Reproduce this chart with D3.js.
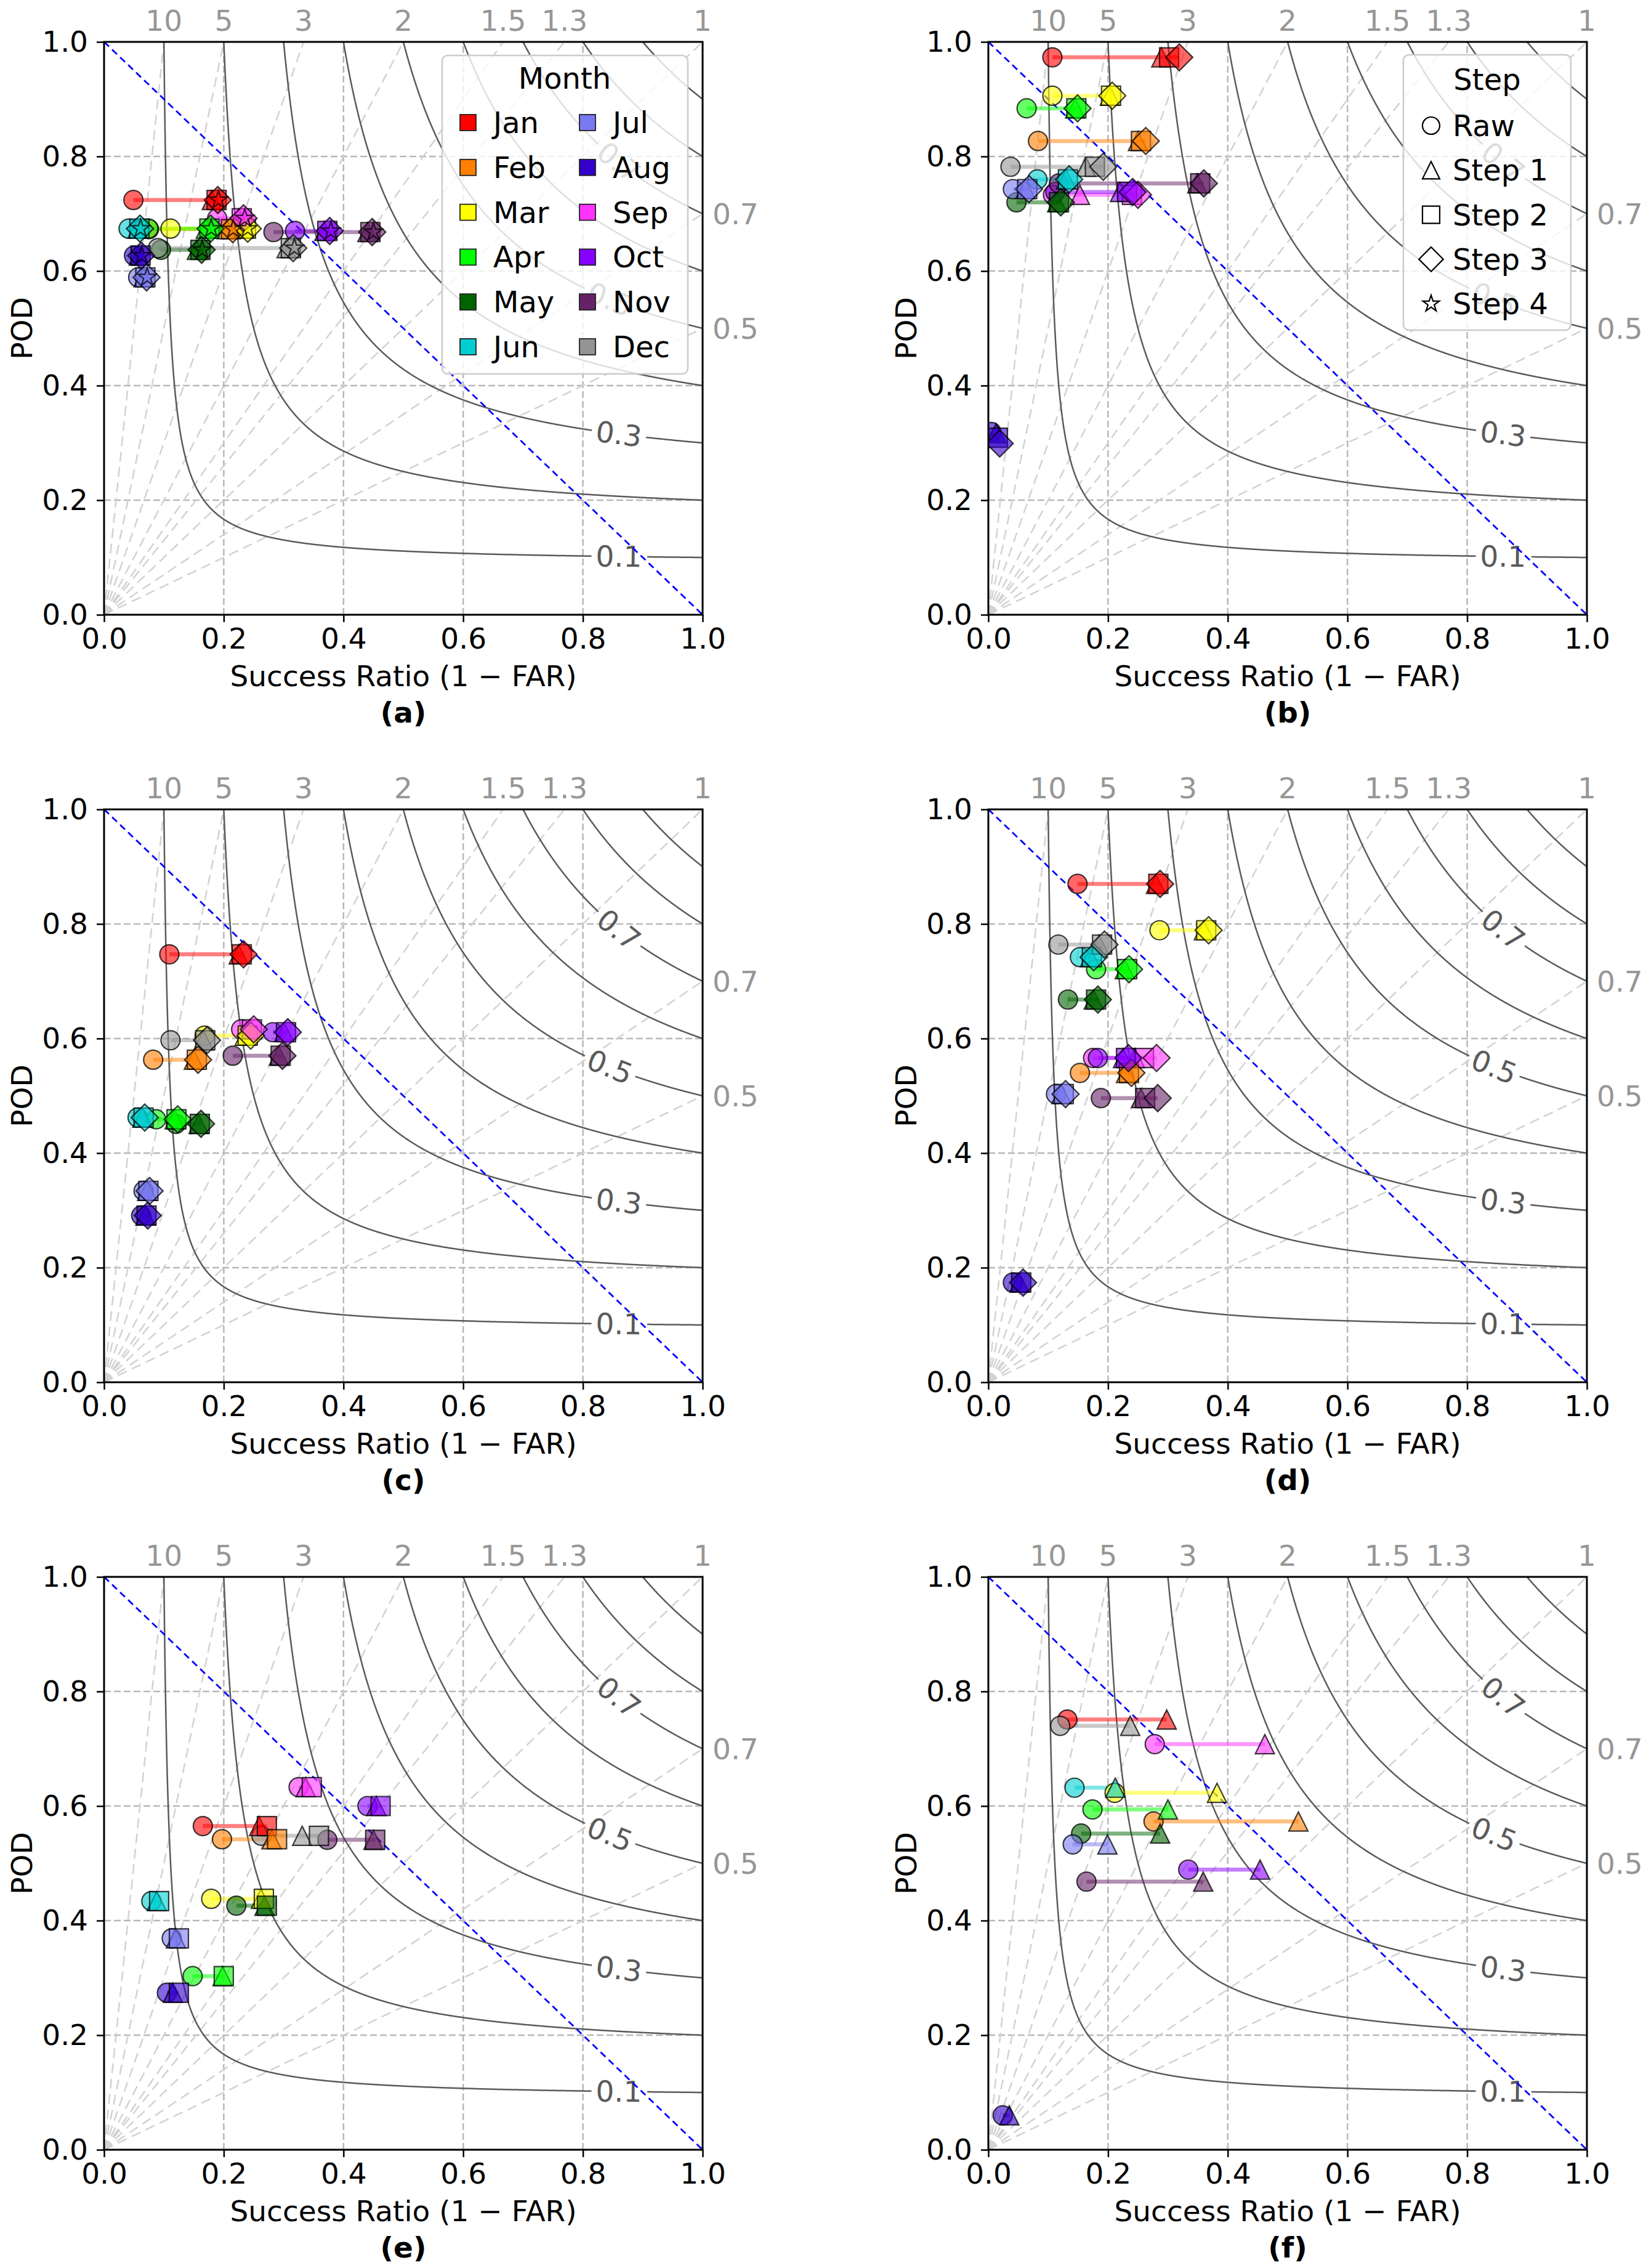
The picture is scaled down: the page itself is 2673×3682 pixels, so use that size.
<!DOCTYPE html>
<html><head><meta charset="utf-8">
<script src="https://cdn.jsdelivr.net/npm/d3@7"></script>
<style>body{margin:0;background:#fff} svg{display:block} text{font-family:"DejaVu Sans",sans-serif}</style>
</head><body><svg id="chart"></svg>
<script>
// ---------------- data ----------------
const months = ["Jan","Feb","Mar","Apr","May","Jun","Jul","Aug","Sep","Oct","Nov","Dec"];
const monthColors = ["#ff0000","#ff7f00","#ffff00","#00ff00","#006400","#00ced1","#7878f0","#3300cc","#ff33ff","#8800ff","#662266","#949494"];
const stepNames = ["Raw","Step 1","Step 2","Step 3","Step 4"];
const panelLabels = ["(a)","(b)","(c)","(d)","(e)","(f)"];
const axisTicks = [0,0.2,0.4,0.6,0.8,1.0];
const biasLevels = [10,5,3,2,1.5,1.3,1,0.7,0.5];
const biasLabels = ["10","5","3","2","1.5","1.3","1","0.7","0.5"];
const csiLevels = [0.1,0.2,0.3,0.4,0.5,0.6,0.7,0.8,0.9];
const csiLabelLevels = [0.1,0.3,0.5,0.7];
const csiLabelSR = [0.86,0.86,0.845,0.86];

// panel (a): Raw, Step1..Step4
const stepsA = [0,1,2,3,4];
const podA = [0.724,0.673,0.674,0.674,0.637,0.674,0.589,0.627,0.692,0.670,0.668,0.640];
const srA = [
 [0.049,0.180,0.188,0.190,0.191],[0.075,0.205,0.212,0.215,0.216],[0.111,0.232,0.237,0.240,0.240],
 [0.074,0.170,0.176,0.178,0.179],[0.095,0.155,0.161,0.163,0.164],[0.041,0.056,0.059,0.060,0.061],
 [0.057,0.066,0.069,0.071,0.072],[0.050,0.058,0.061,0.062,0.063],[0.189,0.225,0.230,0.233,0.235],
 [0.319,0.368,0.373,0.377,0.379],[0.283,0.440,0.445,0.448,0.450],[0.090,0.305,0.312,0.316,0.318]];
// panel (b): Raw, Step1..Step3
const stepsB = [0,1,2,3];
const podB = [0.973,0.827,0.906,0.884,0.720,0.760,0.743,[0.319,0.317,0.309,0.299],0.733,0.738,0.753,0.782];
const srB = [
 [0.107,0.289,0.302,0.319],[0.083,0.250,0.255,0.263],[0.107,0.203,0.205,0.207],
 [0.064,0.145,0.147,0.149],[0.047,0.115,0.118,0.121],[0.082,0.130,0.133,0.135],
 [0.041,0.062,0.065,0.068],[0.005,0.013,0.016,0.019],[0.108,0.153,0.240,0.250],
 [0.112,0.220,0.232,0.241],[0.118,0.349,0.354,0.360],[0.037,0.163,0.178,0.192]];
// panel (c)
const stepsC = [0,1,2,3];
const podC = [0.747,0.563,0.605,0.459,0.451,0.462,0.334,0.291,0.616,0.611,0.570,0.597];
const srC = [
 [0.109,0.225,0.230,0.233],[0.082,0.150,0.155,0.157],[0.168,0.235,0.240,0.245],
 [0.087,0.118,0.121,0.123],[0.120,0.158,0.160,0.162],[0.056,0.064,0.066,0.068],
 [0.066,0.072,0.074,0.076],[0.062,0.069,0.071,0.073],[0.229,0.244,0.247,0.250],
 [0.282,0.301,0.304,0.307],[0.215,0.292,0.295,0.298],[0.111,0.166,0.169,0.172]];
// panel (d)
const stepsD = [0,1,2,3];
const podD = [0.870,0.540,0.789,0.721,0.668,0.742,0.503,0.174,0.566,0.566,0.496,0.764];
const srD = [
 [0.149,0.280,0.284,0.287],[0.153,0.230,0.235,0.239],[0.286,0.360,0.364,0.368],
 [0.180,0.228,0.232,0.235],[0.133,0.176,0.180,0.183],[0.153,0.170,0.173,0.176],
 [0.113,0.122,0.126,0.129],[0.041,0.052,0.055,0.058],[0.175,0.245,0.260,0.281],
 [0.183,0.225,0.230,0.234],[0.188,0.255,0.262,0.283],[0.117,0.185,0.190,0.194]];
// panel (e): Raw, Step1, Step2
const stepsE = [0,1,2];
const podE = [0.565,0.542,0.438,0.303,0.426,0.434,0.369,0.274,0.633,0.600,0.541,0.548];
const srE = [
 [0.165,0.259,0.272],[0.197,0.280,0.289],[0.179,0.262,0.267],
 [0.148,0.198,0.200],[0.221,0.268,0.272],[0.079,0.088,0.092],
 [0.113,0.120,0.125],[0.105,0.115,0.125],[0.325,0.337,0.347],
 [0.440,0.455,0.462],[0.373,0.450,0.453],[0.263,0.331,0.359]];
// panel (f): Raw, Step1
const stepsF = [0,1];
const podF = [0.751,0.573,0.623,0.594,0.552,0.632,0.533,0.060,0.708,0.489,0.468,0.740];
const srF = [
 [0.132,0.298],[0.276,0.518],[0.211,0.382],[0.174,0.300],[0.155,0.287],[0.144,0.212],
 [0.141,0.199],[0.024,0.035],[0.278,0.462],[0.334,0.454],[0.164,0.359],[0.120,0.237]];

const panels = [
 {steps:stepsA,pod:podA,sr:srA},{steps:stepsB,pod:podB,sr:srB},
 {steps:stepsC,pod:podC,sr:srC},{steps:stepsD,pod:podD,sr:srD},
 {steps:stepsE,pod:podE,sr:srE},{steps:stepsF,pod:podF,sr:srF}];

// ---------------- layout ----------------
const W = 972, H = 930;
const colX = [169, 1605], rowY = [68, 1314, 2560];
const MS = 31;
const FS = 47;
const LFS = 48;

const svg = d3.select("#chart").attr("width",2673).attr("height",3682);
svg.append("rect").attr("width",2673).attr("height",3682).attr("fill","#fff");
const defs = svg.append("defs");

function markerPath(step, ms){
  const r = ms/2;
  if(step===0) return `M${r},0A${r},${r} 0 1,1 ${-r},0A${r},${r} 0 1,1 ${r},0Z`;
  if(step===1) return `M0,${-r}L${r},${r}L${-r},${r}Z`;
  if(step===2) return `M${-r},${-r}H${r}V${r}H${-r}Z`;
  if(step===3){const d = ms/Math.SQRT2; return `M0,${-d}L${d},0L0,${d}L${-d},0Z`;}
  const pts=[]; for(let k=0;k<10;k++){const rr = k%2===0? r : r*0.381966; const a = -Math.PI/2 + k*Math.PI/5; pts.push([rr*Math.cos(a), rr*Math.sin(a)]);}
  return "M"+pts.map(p=>p[0].toFixed(2)+","+p[1].toFixed(2)).join("L")+"Z";
}

panels.forEach((P, i) => {
  const x0 = colX[i%2], y0 = rowY[Math.floor(i/2)];
  const x = d3.scaleLinear().domain([0,1]).range([x0, x0+W]);
  const y = d3.scaleLinear().domain([0,1]).range([y0+H, y0]);
  const g = svg.append("g");
  defs.append("clipPath").attr("id","clip"+i).append("rect").attr("x",x0).attr("y",y0).attr("width",W).attr("height",H);
  const plot = g.append("g").attr("clip-path",`url(#clip${i})`);

  // grid
  [0.2,0.4,0.6,0.8].forEach(t=>{
    plot.append("line").attr("x1",x(t)).attr("x2",x(t)).attr("y1",y(0)).attr("y2",y(1))
      .attr("stroke","#b8b8b8").attr("stroke-width",2.5).attr("stroke-dasharray","11,5");
    plot.append("line").attr("x1",x(0)).attr("x2",x(1)).attr("y1",y(t)).attr("y2",y(t))
      .attr("stroke","#b8b8b8").attr("stroke-width",2.5).attr("stroke-dasharray","11,5");
  });
  // bias lines
  biasLevels.forEach(b=>{
    const end = b>=1 ? [1/b,1] : [1,b];
    plot.append("line").attr("x1",x(0)).attr("y1",y(0)).attr("x2",x(end[0])).attr("y2",y(end[1]))
      .attr("stroke","#d2d2d2").attr("stroke-width",2.5).attr("stroke-dasharray","16,9");
  });
  // CSI contours
  const line = d3.line();
  csiLevels.forEach(c=>{
    const N = 1500, K = 1/c + 1;
    const pts = d3.range(N+1).map(k=>{const u = 1 + (1/c - 1)*k/N; return [x(1/u), y(1/(K-u))];});
    const li = csiLabelLevels.indexOf(c);
    let segs = [pts];
    if(li>=0){
      const s = csiLabelSR[li], p = 1/(K - 1/s);
      const cx = x(s), cy = y(p);
      const gap = 44;
      segs = []; let cur = [];
      pts.forEach(q=>{ if(Math.hypot(q[0]-cx,q[1]-cy) > gap){cur.push(q);} else { if(cur.length) segs.push(cur); cur=[]; } });
      if(cur.length) segs.push(cur);
      const ang = Math.atan((p*p)/(s*s) * (H/W)) * 180/Math.PI;
      plot.append("text").attr("transform",`translate(${cx},${cy}) rotate(${ang})`)
        .attr("text-anchor","middle").attr("dominant-baseline","central")
        .attr("font-size",FS).attr("fill","#5a5a5a").text(d3.format(".1f")(c));
    }
    segs.forEach(sg=>plot.append("path").attr("d",line(sg)).attr("fill","none").attr("stroke","#5a5a5a").attr("stroke-width",2.5));
  });
  // 1:1 diagonal
  plot.append("line").attr("x1",x(0)).attr("y1",y(1)).attr("x2",x(1)).attr("y2",y(0))
    .attr("stroke","#0000ff").attr("stroke-width",2.8).attr("stroke-dasharray","11,7");

  // data: connecting lines first, then markers step by step
  const podOf = (m,k)=> Array.isArray(P.pod[m]) ? P.pod[m][k] : P.pod[m];
  months.forEach((mn,m)=>{
    const n = P.steps.length;
    plot.append("line").attr("x1",x(P.sr[m][0])).attr("y1",y(podOf(m,0)))
      .attr("x2",x(P.sr[m][n-1])).attr("y2",y(podOf(m,n-1)))
      .attr("stroke",monthColors[m]).attr("stroke-width",6.5).attr("stroke-opacity",0.5);
  });
  P.steps.forEach((st,k)=>{
    months.forEach((mn,m)=>{
      plot.append("path").attr("d",markerPath(st,MS))
        .attr("transform",`translate(${x(P.sr[m][k])},${y(podOf(m,k))})`)
        .attr("fill",monthColors[m]).attr("fill-opacity",0.6)
        .attr("stroke","#000").attr("stroke-opacity",0.75).attr("stroke-width",2.2);
    });
  });

  // spines
  g.append("rect").attr("x",x0).attr("y",y0).attr("width",W).attr("height",H)
    .attr("fill","none").attr("stroke","#000").attr("stroke-width",3);

  // axes
  const fmt = d3.format(".1f");
  const ax = g.append("g").attr("transform",`translate(0,${y0+H})`)
    .call(d3.axisBottom(x).tickValues(axisTicks).tickFormat(fmt).tickSize(12).tickPadding(10));
  const ay = g.append("g").attr("transform",`translate(${x0},0)`)
    .call(d3.axisLeft(y).tickValues(axisTicks).tickFormat(fmt).tickSize(12).tickPadding(14));
  [ax,ay].forEach(a=>{
    a.select(".domain").remove();
    a.selectAll(".tick line").attr("stroke","#000").attr("stroke-width",2.5);
    a.selectAll(".tick text").attr("font-size",FS).attr("fill","#000").attr("font-family","DejaVu Sans");
  });
  // bias labels
  biasLevels.forEach((b,bi)=>{
    if(b>=1){
      g.append("text").attr("x",x(1/b)).attr("y",y0-35).attr("text-anchor","middle").attr("dominant-baseline","central")
        .attr("font-size",FS).attr("fill","#969696").text(biasLabels[bi]);
    } else {
      g.append("text").attr("x",x0+W+16).attr("y",y(b)).attr("dominant-baseline","central")
        .attr("font-size",FS).attr("fill","#969696").text(biasLabels[bi]);
    }
  });
  // axis titles
  g.append("text").attr("x",x0+W/2).attr("y",y0+H+99).attr("text-anchor","middle").attr("dominant-baseline","central")
    .attr("font-size",FS).attr("fill","#000").text("Success Ratio (1 \u2212 FAR)");
  g.append("text").attr("transform",`translate(${x0-134},${y0+H/2}) rotate(-90)`)
    .attr("text-anchor","middle").attr("dominant-baseline","central")
    .attr("font-size",FS).attr("fill","#000").text("POD");
  g.append("text").attr("x",x0+W/2).attr("y",y0+H+158).attr("text-anchor","middle").attr("dominant-baseline","central")
    .attr("font-size",FS).attr("font-weight","bold").attr("fill","#000").text(panelLabels[i]);

  // legends
  if(i===0){
    const L = g.append("g");
    L.append("rect").attr("x",x0+549).attr("y",y0+22).attr("width",399).attr("height",517).attr("rx",9)
      .attr("fill","#fff").attr("fill-opacity",0.8).attr("stroke","#cccccc").attr("stroke-width",2.5);
    L.append("text").attr("x",x0+748).attr("y",y0+59).attr("text-anchor","middle").attr("dominant-baseline","central")
      .attr("font-size",LFS).attr("fill","#000").text("Month");
    months.forEach((mn,m)=>{
      const col = Math.floor(m/6), row = m%6;
      const cy = y0 + 131 + row*72.8;
      const sx = x0 + (col===0 ? 578 : 772);
      L.append("rect").attr("x",sx).attr("y",cy-13).attr("width",26).attr("height",26)
        .attr("fill",monthColors[m]).attr("stroke","#222").attr("stroke-width",1.8);
      L.append("text").attr("x",sx+54).attr("y",cy).attr("dominant-baseline","central")
        .attr("font-size",LFS).attr("fill","#000").text(mn);
    });
  }
  if(i===1){
    const L = g.append("g");
    L.append("rect").attr("x",x0+674).attr("y",y0+21).attr("width",272).attr("height",447).attr("rx",9)
      .attr("fill","#fff").attr("fill-opacity",0.8).attr("stroke","#cccccc").attr("stroke-width",2.5);
    L.append("text").attr("x",x0+810).attr("y",y0+61).attr("text-anchor","middle").attr("dominant-baseline","central")
      .attr("font-size",LFS).attr("fill","#000").text("Step");
    stepNames.forEach((sn,k)=>{
      const cy = y0 + 136 + k*72.3;
      L.append("path").attr("d",markerPath(k,28)).attr("transform",`translate(${x0+719},${cy})`)
        .attr("fill","#fff").attr("stroke","#000").attr("stroke-width",2.2);
      L.append("text").attr("x",x0+754).attr("y",cy).attr("dominant-baseline","central")
        .attr("font-size",LFS).attr("fill","#000").text(sn);
    });
  }
});
</script></body></html>
